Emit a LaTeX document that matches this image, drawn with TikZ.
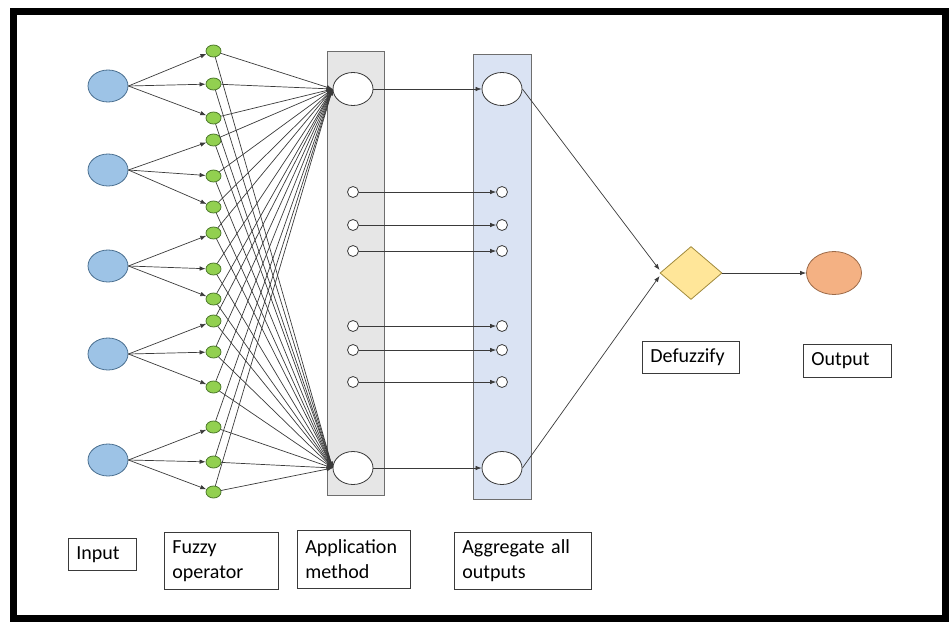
\documentclass[tikz,border=0pt]{standalone}
\usepackage{fontspec}
\setmainfont{Carlito}
\usetikzlibrary{arrows.meta,shapes.geometric}
\definecolor{inblue}{HTML}{9DC3E6}
\definecolor{inblueline}{HTML}{4A6F90}
\definecolor{fgreen}{HTML}{92D050}
\definecolor{fgreenline}{HTML}{4E7A2C}
\definecolor{appgray}{HTML}{E6E6E6}
\definecolor{aggblue}{HTML}{DAE3F3}
\definecolor{boxline}{HTML}{6E6E6E}
\definecolor{dyellow}{HTML}{FFE699}
\definecolor{dyellowline}{HTML}{A08A3C}
\definecolor{outorange}{HTML}{F4B183}
\definecolor{outorangeline}{HTML}{9C6A48}
\definecolor{linecol}{HTML}{3A3A3A}
\begin{document}
\begin{tikzpicture}[x=1pt,y=-1pt,
  inp/.style={ellipse,draw=inblueline,fill=inblue,line width=0.8pt,minimum width=40pt,minimum height=32pt,inner sep=0pt},
  fz/.style={ellipse,draw=fgreenline,fill=fgreen,line width=0.8pt,minimum width=15pt,minimum height=12pt,inner sep=0pt},
  big/.style={ellipse,draw=linecol,fill=white,line width=0.8pt,minimum width=40pt,minimum height=33pt,inner sep=0pt},
  sm/.style={circle,draw=linecol,fill=white,line width=0.8pt,minimum size=11pt,inner sep=0pt},
  col/.style={rectangle,draw=boxline,line width=0.9pt,inner sep=0pt},
  arr/.style={draw=linecol,line width=0.7pt,-{Latex[length=6pt,width=4.5pt]}},
  lbl/.style={rectangle,draw=linecol,fill=white,line width=0.8pt,anchor=north west,align=left,inner xsep=8pt,inner ysep=0pt,font=\fontsize{20}{25}\selectfont}
]
\useasboundingbox (0,0) rectangle (949,621);
\draw[line width=7pt] (13.5,11) rectangle (945.5,618);

% columns
\node[col,fill=appgray,minimum width=57pt,minimum height=444pt] (appcol) at (355.5,273) {};
\node[col,fill=aggblue,minimum width=58pt,minimum height=445pt] (aggcol) at (502,276.5) {};

% inputs
\foreach \y [count=\i] in {86,170,266,354,460}
  \node[inp] (in\i) at (108,\y) {};

% fuzzy operator nodes
\foreach \y [count=\i] in {51,84,118,140,176,207,233,269,299,321,352,387,427,462,492}
  \node[fz] (g\i) at (213.5,\y) {};

% application nodes
\node[big] (appT) at (353,89) {};
\node[big] (appB) at (353,468) {};
\foreach \y [count=\i] in {192,225,251,326,350,382}
  \node[sm] (as\i) at (353,\y) {};

% aggregate nodes
\node[big] (aggT) at (502,89) {};
\node[big] (aggB) at (502,468) {};
\foreach \y [count=\i] in {192,225,251,326,350,382}
  \node[sm] (gs\i) at (502,\y) {};

% defuzzify and output
\node[diamond,draw=dyellowline,fill=dyellow,line width=0.8pt,minimum width=62pt,minimum height=53pt,inner sep=0pt] (dia) at (691,273) {};
\node[ellipse,draw=outorangeline,fill=outorange,line width=0.8pt,minimum width=55pt,minimum height=43pt,inner sep=0pt] (out) at (834,273) {};

% input -> fuzzy
\foreach \i in {1,...,5}
  \foreach \k in {1,2,3} {
    \pgfmathtruncatemacro\j{3*(\i-1)+\k}
    \draw[arr] (in\i.east) -- (g\j);
  }

% fuzzy -> application
\foreach \i in {1,...,15} {
  \draw[arr] (g\i) -- (appT.west);
  \draw[arr] (g\i) -- (appB.west);
}

% application -> aggregate
\draw[arr] (appT.east) -- (aggT.west);
\draw[arr] (appB.east) -- (aggB.west);
\foreach \i in {1,...,6}
  \draw[arr] (as\i.east) -- (gs\i.west);

% aggregate -> defuzzify -> output
\draw[arr] (aggT.east) -- ([yshift=3pt]dia.west);
\draw[arr] (aggB.east) -- ([yshift=-3pt]dia.west);
\draw[arr] (dia.east) -- (out.west);

% labels
\node[lbl,text width=52pt,minimum height=32pt] (lin) at (68,538) {Input};
\node[lbl,text width=98pt,minimum height=57pt] (lfz) at (164,532) {Fuzzy\\operator};
\node[lbl,text width=97pt,minimum height=58pt] (lap) at (297,530) {Application\\method};
\node[lbl,text width=121pt,minimum height=57pt] (lag) at (454,532) {Aggregate all\\outputs};
\node[lbl,text width=81pt,minimum height=32pt] (ldf) at (642,341) {Defuzzify};
\node[lbl,text width=72pt,minimum height=33pt] (lout) at (803,344) {Output};
\end{tikzpicture}
\end{document}
